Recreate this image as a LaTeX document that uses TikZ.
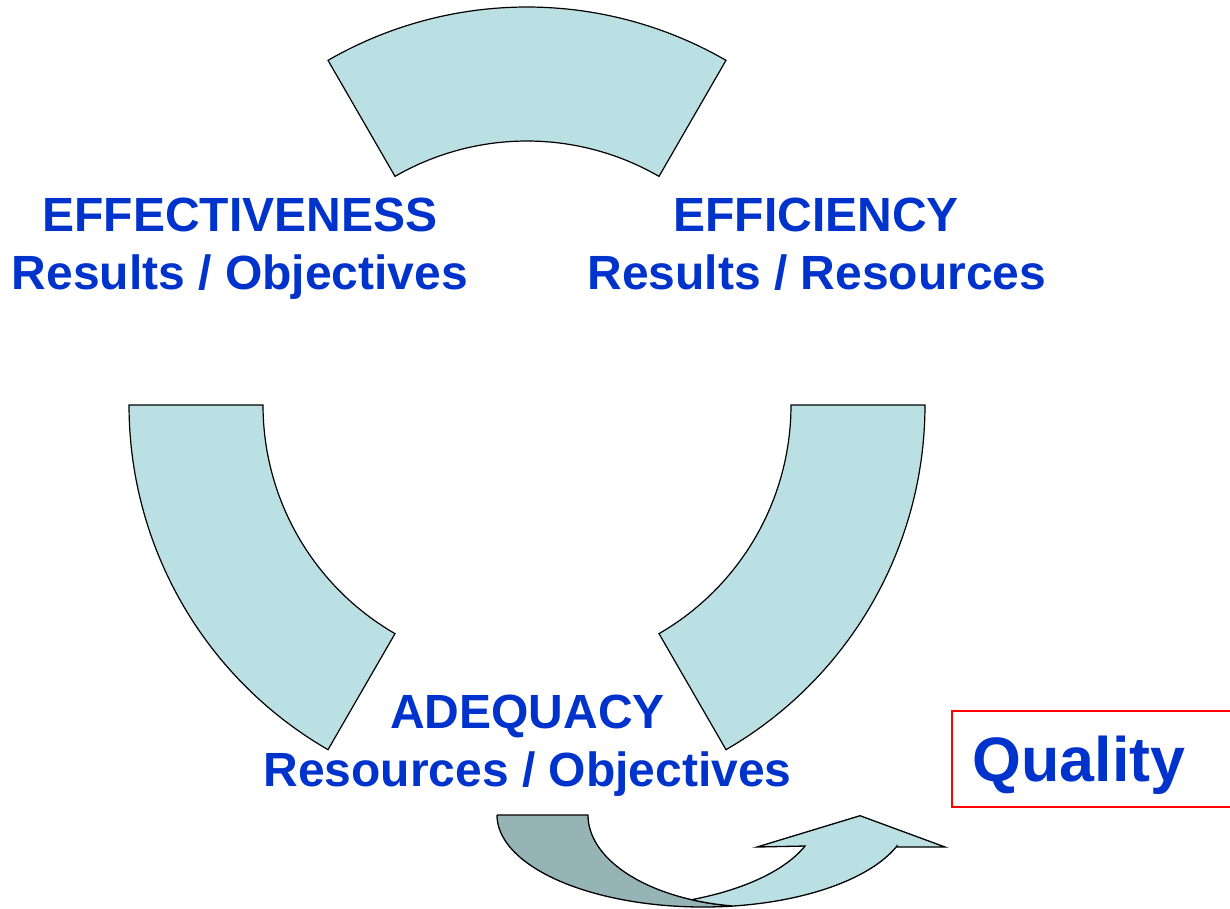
\documentclass[tikz,border=0pt]{standalone}
\usepackage{fontspec}
\setmainfont{Liberation Sans}
\definecolor{lightc}{RGB}{186,224,227}
\definecolor{darkc}{RGB}{150,180,182}
\definecolor{bluec}{RGB}{0,51,204}
\begin{document}
\begin{tikzpicture}[x=1pt,y=-1pt,
  seg/.style={fill=lightc, draw=black, line width=1.2pt, line join=miter},
  darkseg/.style={fill=darkc, draw=black, line width=1.3pt, line join=miter},
  arrseg/.style={fill=lightc, draw=black, line width=1.3pt, line join=miter},
  lbl/.style={font=\bfseries\fontsize{48}{58}\selectfont, text=bluec, anchor=base, inner sep=0pt}]
\useasboundingbox (0,0) rectangle (1230,908);
\fill[white] (0,0) rectangle (1230,908);
\begin{scope}
\clip (0,0) rectangle (1230,908);
% ring segments
\draw[seg] plot[domain=60:120,samples=90] ({527+398*cos(\x)},{405-398*sin(\x)})
  -- plot[domain=120:60,samples=90] ({527+264*cos(\x)},{405-264*sin(\x)}) -- cycle;
\draw[seg] plot[domain=180:240,samples=90] ({527+398*cos(\x)},{405-398*sin(\x)})
  -- plot[domain=240:180,samples=90] ({527+264*cos(\x)},{405-264*sin(\x)}) -- cycle;
\draw[seg] plot[domain=-60:0,samples=90] ({527+398*cos(\x)},{405-398*sin(\x)})
  -- plot[domain=0:-60,samples=90] ({527+264*cos(\x)},{405-264*sin(\x)}) -- cycle;
% curved up arrow: back face
\draw[darkseg] (497,815) -- (588,815)
  -- plot[domain=180:98.5,samples=70] ({758+170*cos(\x)},{815+92*sin(\x)})
  -- plot[domain=81.6:180,samples=70] ({703+206*cos(\x)},{815+92*sin(\x)}) -- cycle;
% curved up arrow: front face
\draw[arrseg] plot[domain=67:19.7,samples=60] ({611+206*cos(\x)},{815+92*sin(\x)})
  -- (757,847) -- (860,815.7) -- (945,847) -- (897,847)
  -- plot[domain=19.7:81.6,samples=60] ({703+206*cos(\x)},{815+92*sin(\x)})
  -- plot[domain=98.5:113,samples=20] ({758+170*cos(\x)},{815+92*sin(\x)}) -- cycle;
% quality box
\node (qbox) [draw=red, line width=2pt, minimum width=320pt, minimum height=96pt,
  anchor=north west, inner sep=0pt] at (951,710) {};
\end{scope}
% labels
\node[lbl] (effA) at (240,231) {EFFECTIVENESS};
\node[lbl] (effB) at (240,289.5) {Results / Objectives};
\node[lbl] (ficA) at (816,231) {EFFICIENCY};
\node[lbl] (ficB) at (817,289.5) {Results / Resources};
\node[lbl] (adqA) at (527.5,728.5) {ADEQUACY};
\node[lbl] (adqB) at (527.5,786.5) {Resources / Objectives};
\node[font=\bfseries\fontsize{62.8}{75}\selectfont, text=bluec, anchor=base, inner sep=0pt] (qual) at (1079,781) {Quality};
\end{tikzpicture}
\end{document}
